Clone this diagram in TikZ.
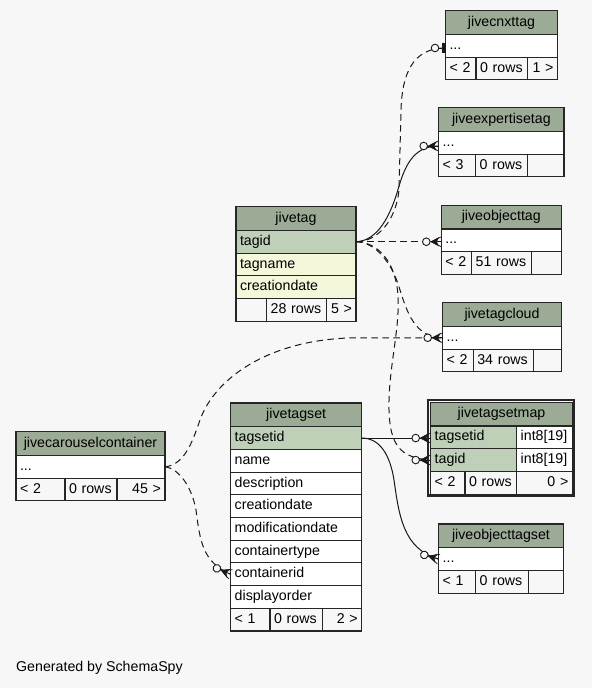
\documentclass[tikz,border=0pt]{standalone}
\usepackage{fontspec}
\setmainfont{Liberation Sans}
\definecolor{bgc}{HTML}{F7F7F7}
\definecolor{hdrc}{HTML}{9CAB96}
\definecolor{pkc}{HTML}{BED1B8}
\definecolor{colc}{HTML}{F4F7DA}
\newcommand\tabfont{\fontsize{14.2}{17}\selectfont}
\tikzset{
  cellbase/.style={draw=black!85, line width=1.1pt, inner xsep=4pt, inner ysep=0pt,
    outer sep=0pt, anchor=north west, font=\tabfont, text height=10.2pt, text depth=3pt},
  hdr/.style={cellbase, fill=hdrc, align=center},
  pk/.style={cellbase, fill=pkc, align=left},
  col/.style={cellbase, fill=colc, align=left},
  wcol/.style={cellbase, fill=white, align=left},
  ftl/.style={cellbase, fill=bgc, align=left},
  ftr/.style={cellbase, fill=bgc, align=right},
  solidedge/.style={line width=1pt, black!90},
  dashedge/.style={line width=1pt, black!90, dash pattern=on 6.5pt off 4.5pt},
}
\newcommand\tc[7]{%
  \pgfmathsetmacro\tcw{#5-8}%
  \node[#1, text width=\tcw pt, minimum height=#6pt] (#2) at (#3,#4) {#7};}
\newcommand\crowodot[2]{%
  \begin{scope}[shift={(#1)}, rotate=#2]
    \draw[line width=0.9pt, black!90] (-11pt,0pt) -- (0pt,0pt);
    \draw[line width=0.7pt, black!90] (-10pt,0pt) -- (0pt,5pt) (-10pt,0pt) -- (0pt,-5pt);
    \fill[black!90] (-11pt,0pt) -- (-2pt,4.8pt) -- (-4.5pt,0pt) -- (-2pt,-4.8pt) -- cycle;
    \draw[line width=0.9pt, black!90, fill=bgc] (-15pt,0pt) circle (3.8pt);
  \end{scope}}
\newcommand\teeodot[2]{%
  \begin{scope}[shift={(#1)}, rotate=#2]
    \draw[line width=0.9pt, black!90] (-11pt,0pt) -- (0pt,0pt);
    \fill[black!90] (-3.3pt,-5pt) rectangle (0pt,5pt);
    \draw[line width=0.9pt, black!90, fill=bgc] (-10.5pt,0pt) circle (3.8pt);
  \end{scope}}
\def\H{23.7}
\def\R{22.7}
\begin{document}
\begin{tikzpicture}[x=1pt,y=-1pt]
\fill[bgc] (0,0) rectangle (592,688);
\useasboundingbox (0,0) rectangle (592,688);

% jivecnxttag
\tc{hdr}{cnxtH}{445.5}{10.7}{112}{\H}{jivecnxttag}
\tc{wcol}{cnxtRow}{445.5}{34.4}{112}{\R}{...}
\tc{ftl}{cnxtF1}{445.5}{57.1}{30.5}{\R}{< 2}
\tc{ftl}{cnxtF2}{476}{57.1}{51.7}{\R}{0 rows}
\tc{ftr}{cnxtF3}{527.7}{57.1}{29.8}{\R}{1 >}

% jiveexpertisetag
\tc{hdr}{expH}{438.7}{107.7}{125.3}{\H}{jiveexpertisetag}
\tc{wcol}{expRow}{438.7}{131.4}{125.3}{\R}{...}
\tc{ftl}{expF1}{438.7}{154.1}{37}{\R}{< 3}
\tc{ftl}{expF2}{475.7}{154.1}{52}{\R}{0 rows}
\tc{ftr}{expF3}{527.7}{154.1}{36.3}{\R}{}

% jivetag
\tc{hdr}{tagH}{236}{206.7}{120}{\H}{jivetag}
\tc{pk}{tagTagid}{236}{230.4}{120}{\R}{tagid}
\tc{col}{tagTagname}{236}{253.1}{120}{\R}{tagname}
\tc{col}{tagCreation}{236}{275.8}{120}{\R}{creationdate}
\tc{ftl}{tagF1}{236}{298.5}{30.7}{\R}{}
\tc{ftl}{tagF2}{266.7}{298.5}{60}{\R}{28 rows}
\tc{ftr}{tagF3}{326.7}{298.5}{29.3}{\R}{5 >}

% jiveobjecttag
\tc{hdr}{objH}{441.3}{205.3}{120}{\H}{jiveobjecttag}
\tc{wcol}{objRow}{441.3}{229}{120}{\R}{...}
\tc{ftl}{objF1}{441.3}{251.7}{30.4}{\R}{< 2}
\tc{ftl}{objF2}{471.7}{251.7}{60}{\R}{51 rows}
\tc{ftr}{objF3}{531.7}{251.7}{29.6}{\R}{}

% jivetagcloud
\tc{hdr}{cloudH}{442.7}{302.7}{118.6}{\H}{jivetagcloud}
\tc{wcol}{cloudRow}{442.7}{326.4}{118.6}{\R}{...}
\tc{ftl}{cloudF1}{442.7}{349.1}{30.6}{\R}{< 2}
\tc{ftl}{cloudF2}{473.3}{349.1}{60}{\R}{34 rows}
\tc{ftr}{cloudF3}{533.3}{349.1}{28}{\R}{}

% jivetagsetmap
\draw[line width=2.4pt, black!85, fill=bgc] (428.2,400.2) rectangle (573.8,495.6);
\tc{hdr}{mapH}{430.7}{402.3}{141.6}{\H}{jivetagsetmap}
\tc{pk}{mapTagsetid}{430.7}{426}{86}{\R}{tagsetid}
\tc{wcol}{mapTagsetidT}{516.7}{426}{55.6}{\R}{int8[19]}
\tc{pk}{mapTagid}{430.7}{448.7}{86}{\R}{tagid}
\tc{wcol}{mapTagidT}{516.7}{448.7}{55.6}{\R}{int8[19]}
\tc{ftl}{mapF1}{430.7}{471.4}{34.3}{\R}{< 2}
\tc{ftl}{mapF2}{465}{471.4}{51.7}{\R}{0 rows}
\tc{ftr}{mapF3}{516.7}{471.4}{55.6}{\R}{0 >}

% jiveobjecttagset
\tc{hdr}{otsH}{438.7}{524}{124.6}{\H}{jiveobjecttagset}
\tc{wcol}{otsRow}{438.7}{547.7}{124.6}{\R}{...}
\tc{ftl}{otsF1}{438.7}{570.4}{37}{\R}{< 1}
\tc{ftl}{otsF2}{475.7}{570.4}{52.6}{\R}{0 rows}
\tc{ftr}{otsF3}{528.3}{570.4}{35}{\R}{}

% jivecarouselcontainer
\tc{hdr}{carH}{16}{431.7}{149}{\H}{jivecarouselcontainer}
\tc{wcol}{carRow}{16}{455.4}{149}{\R}{...}
\tc{ftl}{carF1}{16}{478.1}{49}{\R}{< 2}
\tc{ftl}{carF2}{65}{478.1}{52}{\R}{0 rows}
\tc{ftr}{carF3}{117}{478.1}{48}{\R}{45 >}

% jivetagset
\tc{hdr}{tsH}{230.7}{403}{131}{\H}{jivetagset}
\tc{pk}{tsTagsetid}{230.7}{426.7}{131}{\R}{tagsetid}
\tc{wcol}{tsName}{230.7}{449.4}{131}{\R}{name}
\tc{wcol}{tsDescription}{230.7}{472.1}{131}{\R}{description}
\tc{wcol}{tsCreation}{230.7}{494.8}{131}{\R}{creationdate}
\tc{wcol}{tsModification}{230.7}{517.5}{131}{\R}{modificationdate}
\tc{wcol}{tsContainertype}{230.7}{540.2}{131}{\R}{containertype}
\tc{wcol}{tsContainerid}{230.7}{562.9}{131}{\R}{containerid}
\tc{wcol}{tsDisplayorder}{230.7}{585.6}{131}{\R}{displayorder}
\tc{ftl}{tsF1}{230.7}{608.3}{39.3}{\R}{< 1}
\tc{ftl}{tsF2}{270}{608.3}{52.7}{\R}{0 rows}
\tc{ftr}{tsF3}{322.7}{608.3}{39}{\R}{2 >}

% connector end points
\coordinate (cnxtTip) at ([yshift=-2.25pt]cnxtRow.west);
\coordinate (expTip) at ([yshift=-3.25pt]expRow.west);
\coordinate (objTip) at (tagTagid.east -| objRow.west);
\coordinate (mapTsTip) at (tsTagsetid.east -| mapTagsetid.west);

% connectors
\draw[dashedge] (tagTagid.east) .. controls (378,241.75) and (396,220) .. (399,190) -- (401,110) .. controls (402,75) and (412,48) .. (cnxtTip);
\draw[solidedge] (tagTagid.east) .. controls (378,241) and (390,215) .. (397,193) .. controls (404,168) and (412,146) .. (expTip);
\draw[dashedge] (tagTagid.east) -- (objTip);
\draw[dashedge] (tagTagid.east) .. controls (375,242) and (392,262) .. (400,290) .. controls (407,312) and (415,337.75) .. (cloudRow.west);
\draw[dashedge] (tagTagid.east) .. controls (378,242) and (396,262) .. (398,296) .. controls (400,330) and (388,370) .. (389,410) .. controls (390,445) and (400,458) .. (mapTagid.west);
\draw[dashedge] (carRow.east) .. controls (185,465) and (193,440) .. (200,420) .. controls (215,378) and (270,337.75) .. (360,337.75) -- (cloudRow.west);
\draw[dashedge] (carRow.east) .. controls (180,469) and (192,488) .. (196,510) .. controls (200,540) and (202,562) .. (tsContainerid.west);
\draw[solidedge] (tsTagsetid.east) -- (mapTsTip);
\draw[solidedge] (tsTagsetid.east) .. controls (380,438) and (390,455) .. (394,480) .. controls (399,515) and (403,549) .. (otsRow.west);

% end marks
\teeodot{cnxtTip}{0}
\crowodot{expTip}{0}
\crowodot{objTip}{0}
\crowodot{cloudRow.west}{0}
\crowodot{mapTagid.west}{0}
\crowodot{mapTsTip}{0}
\crowodot{otsRow.west}{-16}
\crowodot{tsContainerid.west}{-23}

\node[anchor=base west, inner sep=0pt, font=\tabfont] (credit) at (16,671.7) {Generated by SchemaSpy};
\end{tikzpicture}
\end{document}
